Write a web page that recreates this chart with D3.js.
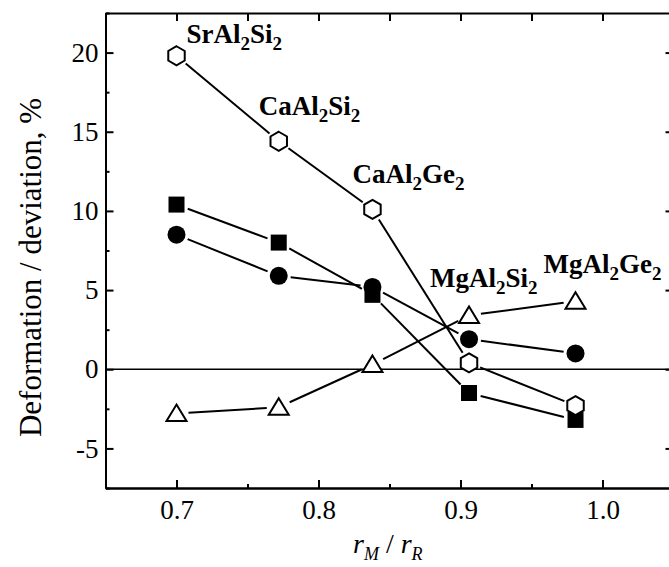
<!DOCTYPE html>
<html>
<head>
<meta charset="utf-8">
<script src="https://cdn.jsdelivr.net/npm/d3@7"></script>
<style>
  body { margin: 0; background: #fff; }
  svg { display: block; font-family: "Liberation Serif", "Times New Roman", serif; }
</style>
</head>
<body>
<div id="canvas"></div>
<script>
"use strict"

// data
const ratio = [0.700, 0.772, 0.838, 0.906, 0.981];
const compounds = [["SrAl", "2", "Si", "2"], ["CaAl", "2", "Si", "2"], ["CaAl", "2", "Ge", "2"],
                   ["MgAl", "2", "Si", "2"], ["MgAl", "2", "Ge", "2"]];
const hexSeries = [19.8, 14.4, 10.1, 0.4, -2.3];
const squareSeries = [10.4, 8.0, 4.7, -1.5, -3.2];
const circleSeries = [8.5, 5.9, 5.2, 1.9, 1.0];
const triangleSeries = [-2.8, -2.4, 0.3, 3.4, 4.3];
const xTicks = [0.7, 0.8, 0.9, 1.0];
const yTicks = [-5, 0, 5, 10, 15, 20];

let drawing = d3.select("#canvas")
    .append("svg")
    .attr("width", 669)
    .attr("height", 567);

let x = d3.scaleLinear().domain([0.65, 1.05]).range([105.5, 673.5]);
let y = d3.scaleLinear().domain([-7.5, 22.5]).range([488, 13]);

let xMinor = d3.range(0.65, 1.051, 0.05).filter(v => !xTicks.some(t => Math.abs(t - v) < 1e-6));
let yMinor = d3.range(-7.5, 22.6, 2.5).filter(v => !yTicks.some(t => Math.abs(t - v) < 1e-6));

function styleAxis(g) {
    g.select(".domain").attr("stroke-width", 2);
    g.selectAll(".tick line").attr("stroke-width", 2);
    g.selectAll("text").attr("font-family", "Liberation Serif").attr("font-size", 27).attr("fill", "#000");
}

// bottom
drawing.append("g").attr("transform", `translate(0,${y(-7.5)})`)
    .call(d3.axisBottom(x).tickValues(xTicks).tickFormat(d3.format(".1f")).tickSize(-8).tickSizeOuter(0).tickPadding(12))
    .call(styleAxis);
drawing.append("g").attr("transform", `translate(0,${y(-7.5)})`)
    .call(d3.axisBottom(x).tickValues(xMinor).tickFormat("").tickSize(-4).tickSizeOuter(0))
    .call(styleAxis);
// top
drawing.append("g").attr("transform", `translate(0,${y(22.5)})`)
    .call(d3.axisTop(x).tickValues(xTicks.concat(xMinor)).tickFormat("").tickSize(-8).tickSizeOuter(0))
    .call(styleAxis);
// left (plain hyphen for negatives, as in the original)
drawing.append("g").attr("transform", `translate(${x(0.65)},0)`)
    .call(d3.axisLeft(y).tickValues(yTicks).tickFormat(d => String(d)).tickSize(-8).tickSizeOuter(0).tickPadding(7))
    .call(styleAxis);
drawing.append("g").attr("transform", `translate(${x(0.65)},0)`)
    .call(d3.axisLeft(y).tickValues(yMinor).tickFormat("").tickSize(-4).tickSizeOuter(0))
    .call(styleAxis);
// right
drawing.append("g").attr("transform", `translate(${x(1.05)},0)`)
    .call(d3.axisRight(y).tickValues(yTicks).tickFormat("").tickSize(-8).tickSizeOuter(0))
    .call(styleAxis);
drawing.append("g").attr("transform", `translate(${x(1.05)},0)`)
    .call(d3.axisRight(y).tickValues(yMinor).tickFormat("").tickSize(-4).tickSizeOuter(0))
    .call(styleAxis);

// zero line
drawing.append("line")
    .attr("x1", x(0.65)).attr("x2", x(1.05))
    .attr("y1", y(0)).attr("y2", y(0))
    .attr("stroke", "#000").attr("stroke-width", 1.5);

// connecting lines, broken around the symbols
function drawLine(values) {
    let pts = ratio.map((r, i) => [x(r), y(values[i])]);
    for (let i = 0; i < pts.length - 1; i++) {
        let [x1, y1] = pts[i], [x2, y2] = pts[i + 1];
        let len = Math.hypot(x2 - x1, y2 - y1), gap = 12;
        let ux = (x2 - x1) / len, uy = (y2 - y1) / len;
        drawing.append("line")
            .attr("x1", x1 + ux * gap).attr("y1", y1 + uy * gap)
            .attr("x2", x2 - ux * gap).attr("y2", y2 - uy * gap)
            .attr("stroke", "#000").attr("stroke-width", 2);
    }
}
[squareSeries, circleSeries, triangleSeries, hexSeries].forEach(drawLine);

// squares
drawing.selectAll(".sq").data(squareSeries).join("rect")
    .attr("x", (d, i) => x(ratio[i]) - 8).attr("y", d => y(d) - 8)
    .attr("width", 16).attr("height", 16).attr("fill", "#000");
// circles
drawing.selectAll(".ci").data(circleSeries).join("circle")
    .attr("cx", (d, i) => x(ratio[i])).attr("cy", d => y(d)).attr("r", 9).attr("fill", "#000");
// triangles
let tri = "M0,-9L10,7.5L-10,7.5Z";
drawing.selectAll(".tr").data(triangleSeries).join("path")
    .attr("d", tri)
    .attr("transform", (d, i) => `translate(${x(ratio[i])},${y(d)})`)
    .attr("fill", "#fff").attr("stroke", "#000").attr("stroke-width", 2);
// hexagons
let hex = d3.range(6).map(k => {
    let a = Math.PI / 3 * k - Math.PI / 2;
    return [9.5 * Math.cos(a), 9.5 * Math.sin(a)];
});
drawing.selectAll(".hx").data(hexSeries).join("path")
    .attr("d", "M" + hex.join("L") + "Z")
    .attr("transform", (d, i) => `translate(${x(ratio[i])},${y(d)})`)
    .attr("fill", "#fff").attr("stroke", "#000").attr("stroke-width", 2);

// compound labels, placed next to the hexagon / triangle points
const labelAnchor = [
    [x(ratio[0]) + 10, y(hexSeries[0]) - 13],
    [x(ratio[1]) - 20, y(hexSeries[1]) - 26],
    [x(ratio[2]) - 20, y(hexSeries[2]) - 26],
    [x(ratio[3]) - 39, y(triangleSeries[3]) - 28],
    [x(ratio[4]) - 32, y(triangleSeries[4]) - 28]
];
compounds.forEach((parts, i) => {
    let t = drawing.append("text")
        .attr("x", labelAnchor[i][0]).attr("y", labelAnchor[i][1])
        .attr("font-size", 27).attr("font-weight", "bold");
    t.append("tspan").text(parts[0]);
    t.append("tspan").attr("font-size", 19).attr("dy", 7).text(parts[1]);
    t.append("tspan").attr("dy", -7).text(parts[2]);
    t.append("tspan").attr("font-size", 19).attr("dy", 7).text(parts[3]);
});

// axis titles
drawing.append("text")
    .attr("transform", `translate(41,${(y(-7.5) + y(22.5)) / 2 + 17}) rotate(-90)`)
    .attr("text-anchor", "middle")
    .attr("font-size", 31)
    .text("Deformation / deviation, %");

let xt = drawing.append("text")
    .attr("x", 353).attr("y", 553)
    .attr("font-size", 28).attr("font-style", "italic");
xt.append("tspan").text("r");
xt.append("tspan").attr("font-size", 18).attr("dy", 7).text("M");
xt.append("tspan").attr("dy", -7).attr("font-style", "normal").text(" / ");
xt.append("tspan").text("r");
xt.append("tspan").attr("font-size", 18).attr("dy", 7).text("R");
</script>
</body>
</html>
